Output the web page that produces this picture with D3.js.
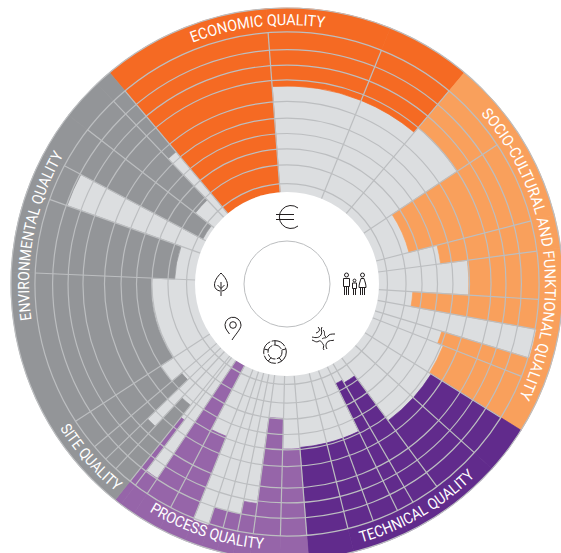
<!DOCTYPE html>
<html lang="en">
<head>
    <meta charset="utf-8">
    <title>Building quality wheel</title>
    <script src="https://d3js.org/d3.v7.min.js"></script>
    <style>
    body { margin: 0; background: #fff; }
    svg { display: block; }
    .label {
        font-family: "Liberation Sans Narrow", Roboto, sans-serif;
        font-size: 15.5px;
        fill: #fff;
    }
    .icon { fill: none; stroke: #231f20; stroke-width: 1px; }
    </style>
</head>
<body>
    <div id="canvas"></div>
    <script>
    // angular weight of each criterion (degrees of the wheel), clockwise from the economic sector
    var economicWeights = [35.7, 26.3, 18];
    var socialWeights = [16.5, 19, 7, 11, 6.8, 6.7, 4.5, 10.5];
    var technicalWeights = [10, 11.5, 6.5, 4, 6, 6, 9.5];
    var processWeights = [6, 6.2, 3.6, 3.4, 3.3, 3.7, 5.8, 6.2, 3.3, 1.5];
    var siteWeights = [4.3, 3.2, 3.8, 7.2];
    var environmentalWeights = [35.5, 17.1, 8.4, 9.7, 8.8, 3.5];

    // where the coloured part starts on the 0-100 radial scale, it always runs out to 100
    var economicValues = [0, 57.6, 57.6];
    var socialValues = [60.9, 18.5, 34.2, 48.9, 18.5, 87.8, 38, 41.3];
    var technicalValues = [42.4, 42.4, 12, 10.3, 39.1, 39.1, 39.1];
    var processValues = [39.7, 23.1, 70.4, 77.7, 77.7, 88, 39.1, 0, 77, 42.6];
    var siteValues = [34.2, 55.4, 25, 32.1];
    var environmentalValues = [23.9, 11.1, 76.9, 1.9, 13, 43.8];

    var ringValues = [4.6, 14.7, 23.4, 31.8, 40.2, 49.2, 60.9, 69, 77.4, 87];

    var labelNames = ["ECONOMIC QUALITY", "SOCIO-CULTURAL AND FUNKTIONAL QUALITY", "TECHNICAL QUALITY",
        "PROCESS QUALITY", "SITE QUALITY", "ENVIRONMENTAL QUALITY"];

    var width = 561, height = 553;
    var cx = 287, cy = 284;
    var start = -40;

    var colors = ["#f56a23", "#f9a05c", "#612b8c", "#9665a9", "#939598", "#939598"];
    var groups = [
        [economicWeights, economicValues],
        [socialWeights, socialValues],
        [technicalWeights, technicalValues],
        [processWeights, processValues],
        [siteWeights, siteValues],
        [environmentalWeights, environmentalValues]
    ];

    var svg = d3.select("#canvas").append("svg")
        .attr("width", width)
        .attr("height", height);

    var angle = d3.scaleLinear().domain([0, 360]).range([start * Math.PI / 180, (start + 360) * Math.PI / 180]);
    var radius = d3.scaleLinear().domain([0, 100]).range([92, 276]);

    var wheel = svg.append("g").attr("transform", "translate(" + cx + "," + cy + ")");

    // flatten the groups into cells with cumulative angles
    var cells = [], pos = 0;
    groups.forEach(function(g, i) {
        g[0].forEach(function(w, j) {
            cells.push({ group: i, from: pos, to: pos + w, value: g[1][j] });
            pos += w;
        });
    });

    var arc = d3.arc()
        .innerRadius(function(d) { return radius(d.value); })
        .outerRadius(radius(100))
        .startAngle(function(d) { return angle(d.from); })
        .endAngle(function(d) { return angle(d.to); });

    // light background disc
    wheel.append("circle").attr("r", radius(100)).attr("fill", "#dcdee0");

    wheel.selectAll("path.cell")
        .data(cells)
        .enter()
        .append("path")
        .attr("class", "cell")
        .attr("d", arc)
        .attr("fill", function(d) { return colors[d.group]; })
        .attr("stroke", function(d) { return colors[d.group]; })
        .attr("stroke-width", 0.7);

    // rings
    wheel.selectAll("circle.ring")
        .data(ringValues)
        .enter()
        .append("circle")
        .attr("class", "ring")
        .attr("r", function(d) { return radius(d); })
        .attr("fill", "none")
        .attr("stroke", "#bcbec0")
        .attr("stroke-width", 1.2);

    // spokes, one at the start of every criterion
    wheel.selectAll("line.spoke")
        .data(cells)
        .enter()
        .append("line")
        .attr("class", "spoke")
        .attr("x1", function(d) { return radius(0) * Math.sin(angle(d.from)); })
        .attr("y1", function(d) { return -radius(0) * Math.cos(angle(d.from)); })
        .attr("x2", function(d) { return radius(87) * Math.sin(angle(d.from)); })
        .attr("y2", function(d) { return -radius(87) * Math.cos(angle(d.from)); })
        .attr("stroke", "#bcbec0")
        .attr("stroke-width", 1.2);

    // hole and rims
    wheel.append("circle").attr("r", radius(0)).attr("fill", "#fff");
    wheel.append("circle").attr("r", 43).attr("fill", "none").attr("stroke", "#bcbec0").attr("stroke-width", 1);
    wheel.append("circle").attr("r", radius(100)).attr("fill", "none").attr("stroke", "#bcbec0").attr("stroke-width", 1.2);

    // curved labels: baseline radius, start and end angle (deg clockwise from top), text length
    var labelArcs = [
        [259, -21.4, 8.3, 134],
        [258, 48.7, 115.9, 303],
        [269, 164, 135.6, 133],
        [266, 211.2, 185.3, 121],
        [269, 237.6, 219.6, 85],
        [258, 262, 300, 171]
    ];
    var defs = svg.append("defs");
    labelNames.forEach(function(name, i) {
        var a = labelArcs[i];
        var a0 = (a[1] - 90) * Math.PI / 180, a1 = (a[2] - 90) * Math.PI / 180;
        var p = d3.path();
        p.arc(0, 0, a[0], a0, a1, a[2] < a[1]);
        defs.append("path").attr("id", "labelPath" + i).attr("d", p.toString());
        wheel.append("text")
            .attr("class", "label")
            .append("textPath")
            .attr("href", "#labelPath" + i)
            .attr("textLength", a[3])
            .attr("lengthAdjust", "spacingAndGlyphs")
            .text(name);
    });

    // icons in the hole
    function icon(x, y) {
        return svg.append("g").attr("class", "icon").attr("transform", "translate(" + x + "," + y + ")");
    }

    var euro = icon(287, 217);
    euro.append("path").attr("d", "M11,-9 A11.5,11.5 0 1 0 11,9");
    euro.append("path").attr("d", "M-11,-2.5H7 M-11,2.5H7");

    var family = icon(354.5, 284);
    family.append("circle").attr("cx", -8).attr("cy", -9).attr("r", 2);
    family.append("path").attr("d", "M-11,-5.5H-5V2.5H-11Z M-10,2.5V11 M-8,2.5V11 M-6,2.5V11");
    family.append("circle").attr("cx", 0).attr("cy", -3.5).attr("r", 1.4);
    family.append("path").attr("d", "M-2,-1H2V4.5H-2Z M-1,4.5V11 M1,4.5V11");
    family.append("circle").attr("cx", 8).attr("cy", -9).attr("r", 2);
    family.append("path").attr("d", "M6.5,-5.5H9.5C10.5,-2 11.5,0 11.5,3.5H4.5C4.5,0 5.5,-2 6.5,-5.5Z M6,3.5V11 M8,3.5V11 M10,3.5V11");

    var leaf = icon(221, 284);
    leaf.append("path").attr("d", "M0,-11 C-4,-7 -6.5,-3 -6.5,1 C-6.5,4.5 -4,6.5 -1,7 M0,-11 C4,-7 6.5,-3 6.5,1 C6.5,4.5 4,6.5 1,7");
    leaf.append("path").attr("d", "M0,-2V12 M-3.5,1 L0,4.5 L3.5,1");

    var pin = icon(233, 326);
    pin.append("circle").attr("cx", 0).attr("cy", -1).attr("r", 3.3);
    pin.append("path").attr("d", "M-1,14 C2,9 8,3 8,-1 A8,8 0 1 0 -7.5,2 C-6.5,4 -5,6 -3.5,8");

    var ringIcon = icon(275, 352);
    ringIcon.append("circle").attr("r", 11.3).attr("stroke-dasharray", "15 1.5");
    ringIcon.append("circle").attr("r", 7).attr("stroke-dasharray", "9 1.5");
    ringIcon.append("path").attr("d", "M-6.8,-2L-10.8,-3 M6.8,-2L10.8,-3 M-4,5.7L-6.7,9 M4,5.7L6.7,9 M0,-7V-11.3");

    var cracks = icon(323, 338);
    cracks.append("path").attr("d", "M-11,-1 C-7,0 -4,0 -2,-3 C0,-6 -3,-8 -1,-11 M-5,-11 C-2,-8 -4,-6 -7,-5");
    cracks.append("path").attr("d", "M-11,2 C-8,3 -7,5 -4,3 C-2,2 -1,5 0,6 C2,8 -1,10 1,12 M4,11 C2,8 3,4 6,3 C8,2 10,3 11,2");
    cracks.append("path").attr("d", "M-1,1 C1,-1 3,1 5,-2 C6,-4 9,-4 12,-4 M0,-8 C3,-6 0,-3 3,-1");
    </script>
</body>
</html>
